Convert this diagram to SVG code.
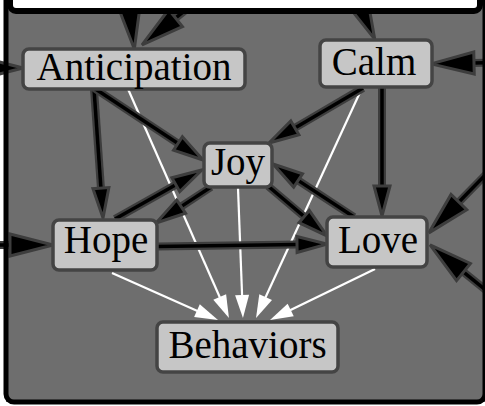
<svg xmlns="http://www.w3.org/2000/svg" width="485" height="406" viewBox="0 0 485 406">
  <style>
    .halo { fill: none; stroke: #3d3d3d; stroke-width: 8; }
    .core { fill: none; stroke: #000; stroke-width: 3.5; }
    .wline { fill: none; stroke: #fff; stroke-width: 2.2; }
    .node rect { fill: #c6c6c6; stroke: #444; stroke-width: 3.5; }
    .node text { font-family: "Liberation Serif", "DejaVu Serif", serif; font-size: 39px; fill: #000; text-anchor: middle; }
  </style>
  <defs>
    <marker id="ah" markerUnits="userSpaceOnUse" orient="auto" refX="0" refY="0" markerWidth="40" markerHeight="40" overflow="visible">
      <polygon points="-1,-8 29,0 -1,8" fill="#000" stroke="#3d3d3d" stroke-width="3" stroke-linejoin="miter"/>
    </marker>
    <marker id="ahB" markerUnits="userSpaceOnUse" orient="auto" refX="0" refY="0" markerWidth="60" markerHeight="60" overflow="visible">
      <polygon points="-1,-11 42,0 -1,11" fill="#000" stroke="#3d3d3d" stroke-width="3" stroke-linejoin="miter"/>
    </marker>
    <marker id="aw" markerUnits="userSpaceOnUse" orient="auto" refX="0" refY="0" markerWidth="30" markerHeight="30" overflow="visible">
      <polygon points="-3,-7 20,0 -3,7" fill="#fff"/>
    </marker>
  </defs>

  <rect x="0" y="0" width="485" height="406" fill="#fff"/>
  <rect x="6" y="0" width="479" height="402" fill="#6e6e6e"/>

  <g id="connectors">
    <g id="white-edges">
      <path class="wline" d="M112,273 L199.7,311.9" marker-end="url(#aw)"/>
      <path class="wline" d="M128,89 L220.9,299.7" marker-end="url(#aw)"/>
      <path class="wline" d="M238,188 L242.2,298" marker-end="url(#aw)"/>
      <path class="wline" d="M362,88 L264.4,299.8" marker-end="url(#aw)"/>
      <path class="wline" d="M375,269 L288,311.3" marker-end="url(#aw)"/>
    </g>
    <g id="external-edges">
      <path class="halo" d="M-60,68 L-19,68"/><path class="core" d="M-60,68 L-19,68" marker-end="url(#ahB)"/>
      <path class="halo" d="M-60,245 L11,245"/><path class="core" d="M-60,245 L11,245" marker-end="url(#ahB)"/>
      <path class="halo" d="M520,62 L473,63"/><path class="core" d="M520,62 L473,63" marker-end="url(#ahB)"/>
      <path class="halo" d="M500,160 L458.2,202.8"/><path class="core" d="M500,160 L458.2,202.8" marker-end="url(#ahB)"/>
      <path class="halo" d="M500,301.6 L462.7,271.4"/><path class="core" d="M500,301.6 L462.7,271.4" marker-end="url(#ahB)"/>
      <path class="halo" d="M125,-30 L129.4,7.3"/><path class="core" d="M125,-30 L129.4,7.3" marker-end="url(#ahB)"/>
      <path class="halo" d="M206,-6.3 L174.8,18.7"/><path class="core" d="M206,-6.3 L174.8,18.7" marker-end="url(#ahB)"/>
      <path class="halo" d="M348,-20 L357.4,0.8"/><path class="core" d="M348,-20 L357.4,0.8" marker-end="url(#ahB)"/>
    </g>
    <g id="internal-edges">
      <path class="halo" d="M94,89 L101,189.1"/><path class="core" d="M94,89 L101,189.1" marker-end="url(#ah)"/>
      <path class="halo" d="M94,88 L178.8,144"/><path class="core" d="M94,88 L178.8,144" marker-end="url(#ah)"/>
      <path class="halo" d="M115,219 L176.7,184.2"/><path class="core" d="M115,219 L176.7,184.2" marker-end="url(#ah)"/>
      <path class="halo" d="M211,187 L180.3,207.1"/><path class="core" d="M211,187 L180.3,207.1" marker-end="url(#ah)"/>
      <path class="halo" d="M363,88 L294,128.4"/><path class="core" d="M363,88 L294,128.4" marker-end="url(#ah)"/>
      <path class="halo" d="M382,88 L382,187"/><path class="core" d="M382,88 L382,187" marker-end="url(#ah)"/>
      <path class="halo" d="M268,186 L304.9,217.2"/><path class="core" d="M268,186 L304.9,217.2" marker-end="url(#ah)"/>
      <path class="halo" d="M354,217 L297.3,179.9"/><path class="core" d="M354,217 L297.3,179.9" marker-end="url(#ah)"/>
      <path class="halo" d="M157,246.5 L298,244.5"/><path class="core" d="M157,246.5 L298,244.5" marker-end="url(#ah)"/>
    </g>
  </g>

  <g id="node-anticipation" class="node">
    <rect x="23" y="49" width="222" height="40" rx="6"/>
    <text x="134" y="80">Anticipation</text>
  </g>
  <g id="node-calm" class="node">
    <rect x="320" y="40" width="112" height="47" rx="6"/>
    <text x="374" y="75">Calm</text>
  </g>
  <g id="node-joy" class="node">
    <rect x="204" y="143" width="68" height="44" rx="6"/>
    <text x="238" y="175">Joy</text>
  </g>
  <g id="node-hope" class="node">
    <rect x="53" y="220" width="104" height="50" rx="6"/>
    <text x="106" y="253">Hope</text>
  </g>
  <g id="node-love" class="node">
    <rect x="327" y="217" width="100" height="50" rx="6"/>
    <text x="378" y="253">Love</text>
  </g>
  <g id="node-behaviors" class="node">
    <rect x="157" y="322" width="181" height="50" rx="6"/>
    <text x="247.5" y="358">Behaviors</text>
  </g>

  <g id="frame">
    <rect x="6" y="-20" width="479" height="422" rx="8" fill="none" stroke="#000" stroke-width="5"/>
    <rect x="10" y="-30" width="470" height="41" rx="6" fill="#fff" stroke="#000" stroke-width="6"/>
  </g>
</svg>
